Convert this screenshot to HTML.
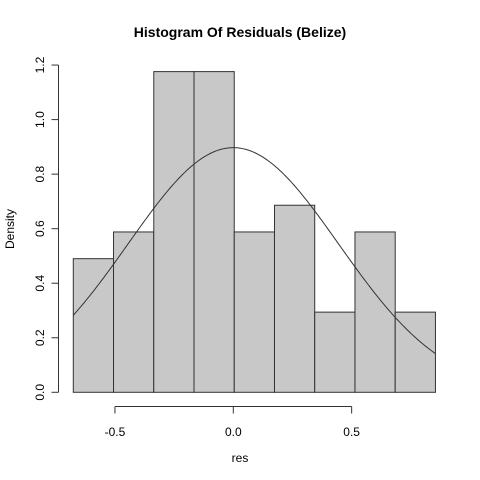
<!DOCTYPE html>
<html><head><meta charset="utf-8"><style>
html,body{margin:0;padding:0;background:#fff;}
svg{display:block;font-family:"Liberation Sans",Arial,sans-serif;}
</style></head><body>
<svg id="chart" width="480" height="480" viewBox="0 0 480 480" xmlns="http://www.w3.org/2000/svg">
<text x="240" y="37" text-anchor="middle" font-size="14" font-weight="bold" fill="#000">Histogram Of Residuals (Belize)</text>
<text x="240" y="462" text-anchor="middle" font-size="12" fill="#000">res</text>
<text x="14" y="229" text-anchor="middle" font-size="12" fill="#000" transform="rotate(-90 14 229)">Density</text>
<g id="bars"></g><g id="curve"></g><g id="xaxis"></g><g id="yaxis"></g>
</svg>
<script>
const breaks = [-0.676, -0.506, -0.336, -0.166, 0.004, 0.174, 0.344, 0.514, 0.684, 0.854];
const densities = [0.49, 0.588, 1.176, 1.176, 0.588, 0.686, 0.294, 0.588, 0.294];
const xTicks = [-0.5, 0.0, 0.5];
const xTickLabels = ["-0.5", "0.0", "0.5"];
const yTicks = [0, 0.2, 0.4, 0.6, 0.8, 1.0, 1.2];
const yTickLabels = ["0.0", "0.2", "0.4", "0.6", "0.8", "1.0", "1.2"];
const normMean = 0.0;
const normSd = 0.4447;

const NS = "http://www.w3.org/2000/svg";
const X = v => 233.3 + v * 236.7;
const Y = v => 392.3 - v * 272.7;
function mk(tag, attrs, parent){const e=document.createElementNS(NS,tag);for(const k in attrs)e.setAttribute(k,attrs[k]);parent.appendChild(e);return e;}

const gb = document.getElementById('bars');
densities.forEach((d,i)=>{
  const x0=X(breaks[i]), x1=X(breaks[i+1]);
  const r = mk('rect',{x:x0,y:Y(d),width:x1-x0,height:Y(0)-Y(d),fill:'#c8c8c8',stroke:'#333','stroke-width':1},gb);
  
  
});

const gc = document.getElementById('curve');
let pts=[];
const lo=breaks[0], hi=breaks[breaks.length-1];
for(let k=0;k<=200;k++){
  const v=lo+(hi-lo)*k/200;
  const z=(v-normMean)/normSd;
  const d=Math.exp(-z*z/2)/(normSd*Math.sqrt(2*Math.PI));
  pts.push(X(v).toFixed(2)+','+Y(d).toFixed(2));
}
const pl = mk('polyline',{points:pts.join(' '),fill:'none',stroke:'#333','stroke-width':1},gc);



const gx = document.getElementById('xaxis');


mk('line',{x1:X(xTicks[0]),x2:X(xTicks[xTicks.length-1]),y1:406.5,y2:406.5,stroke:'#333'},gx);
xTicks.forEach((t,i)=>{
  mk('line',{x1:X(t),x2:X(t),y1:406.5,y2:413.5,stroke:'#333'},gx);
  const tx = mk('text',{x:X(t),y:436,'text-anchor':'middle','font-size':12,fill:'#000'},gx);
  tx.textContent=xTickLabels[i];
  
  
});

const gy = document.getElementById('yaxis');


mk('line',{x1:58.5,x2:58.5,y1:Y(yTicks[0]),y2:Y(yTicks[yTicks.length-1]),stroke:'#333'},gy);
yTicks.forEach((t,i)=>{
  mk('line',{x1:51.5,x2:58.5,y1:Y(t),y2:Y(t),stroke:'#333'},gy);
  const tx = mk('text',{x:44,y:Y(t),'text-anchor':'middle','font-size':12,fill:'#000',transform:`rotate(-90 44 ${Y(t)})`},gy);
  tx.textContent=yTickLabels[i];
  
  
});
</script>
</body></html>
